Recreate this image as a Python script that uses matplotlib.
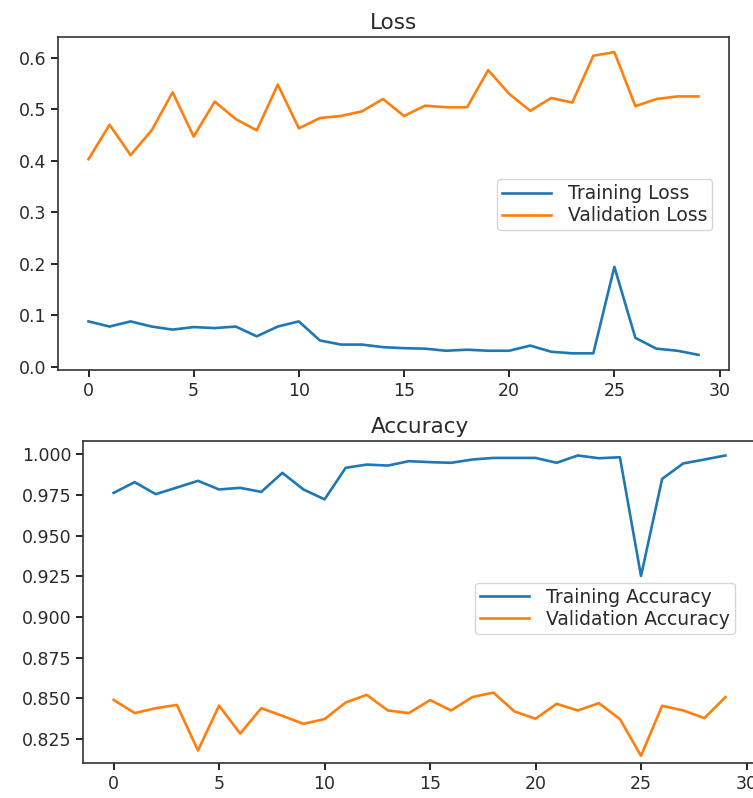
import matplotlib
matplotlib.use("Agg")
import matplotlib.pyplot as plt

epochs = list(range(30))
train_loss = [0.088, 0.078, 0.088, 0.078, 0.072, 0.077, 0.075, 0.078, 0.059, 0.078,
              0.088, 0.051, 0.043, 0.043, 0.038, 0.036, 0.035, 0.031, 0.033, 0.031,
              0.031, 0.041, 0.029, 0.026, 0.026, 0.194, 0.056, 0.035, 0.031, 0.023]
val_loss = [0.403, 0.470, 0.411, 0.459, 0.533, 0.447, 0.515, 0.481, 0.459, 0.548,
            0.463, 0.483, 0.487, 0.496, 0.520, 0.487, 0.507, 0.504, 0.504, 0.576,
            0.530, 0.497, 0.522, 0.513, 0.604, 0.611, 0.506, 0.520, 0.525, 0.525]
train_acc = [0.9764, 0.9830, 0.9756, 0.9797, 0.9838, 0.9785, 0.9795, 0.9770, 0.9887, 0.9785,
             0.9724, 0.9918, 0.9938, 0.9932, 0.9959, 0.9953, 0.9949, 0.9969, 0.9979, 0.9979,
             0.9979, 0.9949, 0.9994, 0.9977, 0.9983, 0.9253, 0.9850, 0.9945, 0.9969, 0.9994]
val_acc = [0.8491, 0.8410, 0.8440, 0.8460, 0.8180, 0.8456, 0.8284, 0.8440, 0.8393, 0.8344,
           0.8373, 0.8475, 0.8522, 0.8426, 0.8410, 0.8490, 0.8426, 0.8508, 0.8536, 0.8420,
           0.8375, 0.8467, 0.8426, 0.8471, 0.8373, 0.8147, 0.8455, 0.8426, 0.8379, 0.8508]

W, H = 753, 798
fig = plt.figure(figsize=(W / 100, H / 100), dpi=100)

def frac(l, t, r, b):
    return [l / W, (H - b) / H, (r - l) / W, (b - t) / H]

fs = 12.5
lfs = 13.5
tfs = 15.5
txt = "#2a2a2a"
leg_kw = dict(loc="upper left", borderaxespad=0, fontsize=lfs, labelcolor=txt,
              labelspacing=0.16, borderpad=0.28, handlelength=2.6, handletextpad=0.9)

ax1 = fig.add_axes(frac(58, 37, 729, 370))
ax1.plot(epochs, train_loss, color="#1f77b4", lw=1.9, label="Training Loss")
ax1.plot(epochs, val_loss, color="#ff7f0e", lw=1.9, label="Validation Loss")
ax1.set_title("Loss", fontsize=tfs, color=txt)
ax1.set_xticks([0, 5, 10, 15, 20, 25, 30])
ax1.set_yticks([0.0, 0.1, 0.2, 0.3, 0.4, 0.5, 0.6])
ax1.tick_params(labelsize=fs, labelcolor=txt, width=1.2, length=5)
ax1.legend(bbox_to_anchor=(0.654, 0.5736), **leg_kw)

ax2 = fig.add_axes(frac(83, 441, 756, 763))
ax2.plot(epochs, train_acc, color="#1f77b4", lw=1.9, label="Training Accuracy")
ax2.plot(epochs, val_acc, color="#ff7f0e", lw=1.9, label="Validation Accuracy")
ax2.set_title("Accuracy", fontsize=tfs, color=txt)
ax2.set_ylim(0.8103, 1.0083)
ax2.set_xticks([0, 5, 10, 15, 20, 25, 30])
ax2.set_yticks([0.825, 0.850, 0.875, 0.900, 0.925, 0.950, 0.975, 1.000])
ax2.set_yticklabels(["0.825", "0.850", "0.875", "0.900", "0.925", "0.950", "0.975", "1.000"])
ax2.tick_params(labelsize=fs, labelcolor=txt, width=1.2, length=5)
ax2.legend(bbox_to_anchor=(0.5825, 0.560), **leg_kw)

for ax in (ax1, ax2):
    for s in ax.spines.values():
        s.set_linewidth(1.2)
        s.set_color("#333333")

fig.savefig("out.png", dpi=100)
